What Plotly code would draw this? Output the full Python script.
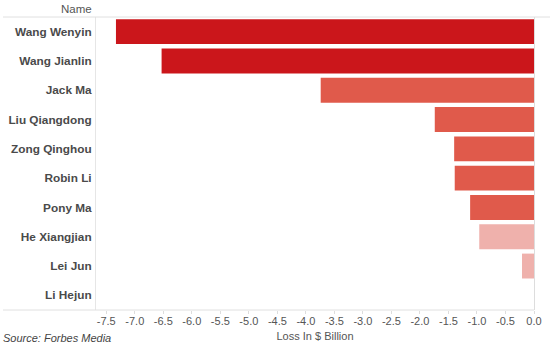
import plotly.graph_objects as go

names = ["Wang Wenyin", "Wang Jianlin", "Jack Ma", "Liu Qiangdong", "Zong Qinghou",
         "Robin Li", "Pony Ma", "He Xiangjian", "Lei Jun", "Li Hejun"]
loss = [-7.33, -6.53, -3.74, -1.74, -1.40, -1.39, -1.12, -0.96, -0.21, 0.0]
colors = ["#CB161B", "#CB161B", "#E05A4B", "#E05A4B", "#E05A4B",
          "#E05A4B", "#E05A4B", "#EFB1AC", "#EFB1AC", "#EFB1AC"]
tick_vals = [-7.5, -7.0, -6.5, -6.0, -5.5, -5.0, -4.5, -4.0, -3.5, -3.0, -2.5, -2.0, -1.5, -1.0, -0.5, 0.0]
tick_text = ["%.1f" % v for v in tick_vals]

W, H = 550, 346
L, R, T, B = 96, 16, 17, 36
pw = W - L - R

fig = go.Figure(go.Bar(
    x=loss, y=names, orientation="h",
    marker=dict(color=colors, line=dict(width=0)),
    hoverinfo="skip",
))

fig.update_layout(
    template="none",
    width=W, height=H,
    margin=dict(l=L, r=R, t=T, b=B, pad=0),
    paper_bgcolor="white", plot_bgcolor="white",
    bargap=0.15,
    showlegend=False,
    font=dict(family="Liberation Sans, Arial, sans-serif", color="#555555"),
    xaxis=dict(
        automargin=False,
        range=[-7.68, 0.0],
        tickvals=tick_vals, ticktext=tick_text,
        tickfont=dict(size=11, color="#555555"),
        ticks="outside", ticklen=3, tickcolor="#DDDDDD",
        ticklabelstandoff=-2,
        showgrid=False, zeroline=True, zerolinecolor="#DDDDDD", zerolinewidth=1,
        showline=False,
        title=dict(text="Loss In $ Billion", font=dict(size=11, color="#555555"), standoff=6),
        fixedrange=True,
    ),
    yaxis=dict(
        automargin=False,
        categoryorder="array", categoryarray=names,
        autorange="reversed",
        tickmode="array", tickvals=names, ticktext=["<b>%s</b>" % n for n in names],
        tickfont=dict(size=11.8, color="#4A4A4A"),
        showgrid=False, zeroline=False,
        showline=True, linecolor="#E6E6E6", linewidth=1,
        ticks="", ticklabelstandoff=1,
        fixedrange=True,
    ),
    annotations=[
        dict(text="Name", xref="paper", yref="paper", x=0, y=1, xanchor="right", yanchor="bottom",
             xshift=-2, yshift=0, showarrow=False, font=dict(size=11.5, color="#555555")),
        dict(text="<i>Source: Forbes Media</i>", xref="paper", yref="paper", x=-L / pw, y=0,
             xanchor="left", yanchor="top", xshift=1, yshift=-20, showarrow=False,
             font=dict(size=11, color="#444444")),
    ],
    shapes=[
        dict(type="line", xref="paper", yref="paper", x0=-L / pw + 3 / pw, x1=1 + R / pw, y0=1, y1=1,
             line=dict(color="#E0E0E0", width=1)),
        dict(type="line", xref="paper", yref="paper", x0=-L / pw + 3 / pw, x1=1, y0=0, y1=0,
             line=dict(color="#E0E0E0", width=1)),
    ],
)

fig.write_html("out.html")
